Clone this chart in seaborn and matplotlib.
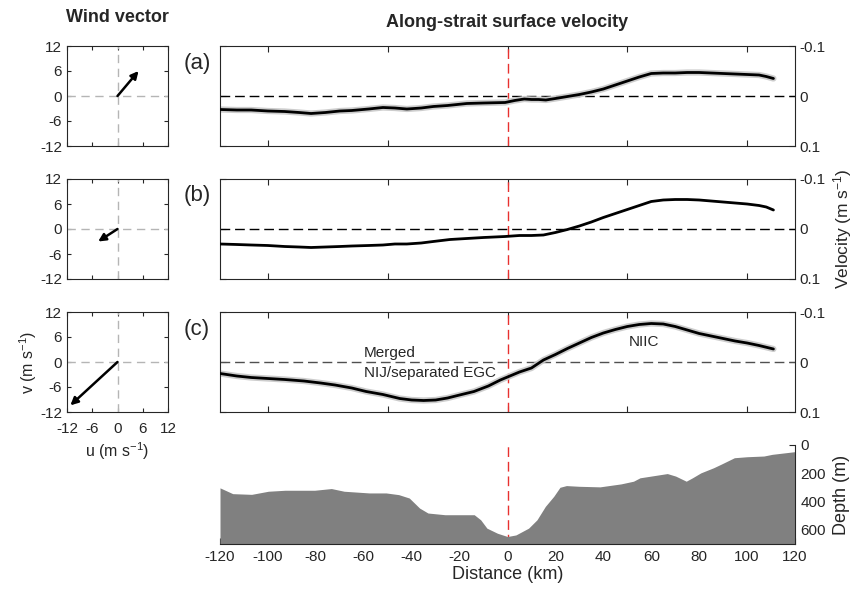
import numpy as np
import matplotlib
matplotlib.use("Agg")
import matplotlib.pyplot as plt
import seaborn as sns

# --- datos ---
paneles = ["(a)", "(b)", "(c)"]
viento_u = [5.0, -4.6, -11.2]
viento_v = [6.0, -3.0, -10.4]

dist_a = [-120, -113, -107, -100, -93, -87, -82, -76, -70, -65, -58, -52, -47, -42, -36, -31,
          -25, -17, -10, -1, 3, 7, 10, 13, 16, 20, 25, 30, 35, 40, 45, 50, 55, 60, 65, 70,
          75, 80, 85, 90, 95, 100, 105, 108, 111]
vel_a = [0.027, 0.028, 0.028, 0.030, 0.031, 0.033, 0.035, 0.033, 0.030, 0.029, 0.026, 0.023,
         0.024, 0.026, 0.024, 0.021, 0.019, 0.015, 0.014, 0.013, 0.009, 0.006, 0.007, 0.007,
         0.008, 0.005, 0.001, -0.003, -0.008, -0.014, -0.022, -0.030, -0.038, -0.045, -0.046,
         -0.046, -0.047, -0.047, -0.046, -0.045, -0.044, -0.043, -0.042, -0.039, -0.035]

dist_b = [-120, -113, -107, -100, -93, -87, -82, -76, -70, -65, -58, -52, -47, -42, -36, -31,
          -24, -17, -10, -1, 5, 10, 15, 20, 25, 30, 35, 40, 45, 50, 55, 60, 65, 70, 75, 80,
          85, 90, 95, 100, 105, 108, 111]
vel_b = [0.030, 0.031, 0.032, 0.033, 0.035, 0.036, 0.037, 0.036, 0.035, 0.034, 0.033, 0.032,
         0.030, 0.030, 0.028, 0.025, 0.021, 0.019, 0.017, 0.015, 0.013, 0.013, 0.012, 0.007,
         0.001, -0.006, -0.014, -0.023, -0.031, -0.039, -0.047, -0.055, -0.058, -0.059,
         -0.059, -0.058, -0.056, -0.054, -0.052, -0.050, -0.047, -0.044, -0.038]

dist_c = [-120, -113, -107, -100, -93, -85, -78, -72, -65, -59, -52, -45, -40, -35, -30, -25,
          -20, -14, -8, -3, 0, 5, 10, 15, 20, 25, 30, 35, 40, 45, 50, 55, 60, 65, 70, 75, 80,
          85, 90, 95, 100, 105, 111]
vel_c = [0.023, 0.028, 0.031, 0.033, 0.035, 0.038, 0.042, 0.046, 0.052, 0.059, 0.065, 0.073,
         0.076, 0.077, 0.076, 0.072, 0.066, 0.059, 0.048, 0.036, 0.030, 0.020, 0.012, -0.004,
         -0.015, -0.027, -0.038, -0.049, -0.058, -0.065, -0.071, -0.075, -0.077, -0.076,
         -0.071, -0.064, -0.057, -0.052, -0.047, -0.042, -0.038, -0.033, -0.026]

dist_fondo = [-120, -114.7, -106.8, -99.8, -92.8, -80.5, -73.5, -68.2, -57.7, -50.7, -45.4,
              -41, -36.7, -33.2, -26.1, -13.9, -11.2, -8.6, -4.2, 0, 3.5, 8.8, 12.3, 15.8,
              19.3, 21.9, 24.6, 29.9, 38.6, 47.4, 52.6, 55.3, 61.4, 66.7, 70.2, 74.6, 77.2,
              80.7, 86, 89.5, 94.7, 100, 107, 110.5, 120]
profundidad = [303, 344, 349, 327, 320, 320, 308, 327, 339, 339, 351, 375, 446, 481, 493, 493,
               529, 588, 624, 647, 636, 588, 529, 434, 363, 299, 287, 292, 296, 275, 256, 232,
               216, 202, 220, 256, 232, 197, 161, 133, 90, 83, 78, 66, 47]

textos_c = ["Merged", "NIJ/separated EGC", "NIIC"]

sns.set_style("ticks")
plt.rcParams['font.family'] = ['Liberation Sans', 'DejaVu Sans']
plt.rcParams['mathtext.fontset'] = 'custom'
plt.rcParams['mathtext.rm'] = 'Liberation Sans'
plt.rcParams['mathtext.it'] = 'Liberation Sans:italic'
plt.rcParams['axes.unicode_minus'] = False
plt.rcParams['axes.edgecolor'] = '#262626'
plt.rcParams['axes.linewidth'] = 0.8
plt.rcParams['xtick.direction'] = 'in'
plt.rcParams['ytick.direction'] = 'in'
plt.rcParams['xtick.labelsize'] = 11
plt.rcParams['ytick.labelsize'] = 11
plt.rcParams['xtick.color'] = '#262626'
plt.rcParams['ytick.color'] = '#262626'

fig = plt.figure(figsize=(8.6, 5.92), dpi=100)

W = 860.0
H = 592.0
tops = [46, 179, 312]
hp = 100

vel_datos = [(dist_a, vel_a, True), (dist_b, vel_b, False), (dist_c, vel_c, True)]
dash = (0, (7, 3.5))

ejes_vel = []
for i in range(3):
    # --- panel de viento ---
    axw = fig.add_axes([67 / W, 1 - (tops[i] + hp) / H, 101 / W, hp / H])
    axw.axhline(0, color='#b5b5b5', lw=1, ls=(0, (6, 4)), zorder=1)
    axw.axvline(0, color='#b5b5b5', lw=1, ls=(0, (6, 4)), zorder=1)
    axw.annotate("", xy=(viento_u[i], viento_v[i]), xytext=(0, 0),
                 arrowprops=dict(arrowstyle='-|>', color='black', lw=1.8,
                                 mutation_scale=11, shrinkA=0, shrinkB=0))
    axw.set_xlim(-12, 12)
    axw.set_ylim(-12, 12)
    axw.set_xticks([-12, -6, 0, 6, 12])
    axw.set_yticks([-12, -6, 0, 6, 12])
    axw.tick_params(top=True, right=True, length=3, width=0.8)
    axw.tick_params(axis='y', pad=3.5)
    axw.tick_params(axis='x', pad=7)
    if i < 2:
        axw.set_xticklabels([])
    else:
        axw.set_xlabel(r'u (m s$^{-1}$)', fontsize=11.5, labelpad=3)
        axw.set_ylabel(r'v (m s$^{-1}$)', fontsize=11.5, labelpad=1)

    # --- panel de velocidad ---
    ax = fig.add_axes([220 / W, 1 - (tops[i] + hp) / H, 575 / W, hp / H])
    xs, vs, halo = vel_datos[i]
    ax.axvline(0, color='#e8312f', lw=1, ls=dash, zorder=1)
    ax.axhline(0, color='black' if i < 2 else '#505050', lw=1, ls=dash, zorder=1)
    if halo:
        sns.lineplot(x=xs, y=vs, ax=ax, color='#c8c8c8', lw=4.5, alpha=0.9, zorder=2)
    sns.lineplot(x=xs, y=vs, ax=ax, color='black', lw=2, zorder=3)
    ax.set_xlim(-120, 120)
    ax.set_ylim(0.1, -0.1)
    ax.set_xticks([-100, -50, 0, 50, 100])
    ax.set_xticklabels([])
    ax.set_yticks([-0.1, 0, 0.1])
    ax.set_yticklabels(['-0.1', '0', '0.1'])
    ax.yaxis.tick_right()
    ax.tick_params(top=True, bottom=True, left=True, right=True, length=4, width=0.8, pad=3)
    ax.text(-0.064, 0.83, paneles[i], transform=ax.transAxes, fontsize=16,
            ha='left', va='center')
    ejes_vel.append(ax)

ejes_vel[0].set_title('Along-strait surface velocity', fontsize=13, fontweight='bold', pad=14)
fig.text(117.5 / W, 1 - 18 / H, 'Wind vector', fontsize=13, fontweight='bold',
         ha='center', va='center')

ejes_vel[1].yaxis.set_label_position('right')
ejes_vel[1].set_ylabel(r'Velocity (m s$^{-1}$)', fontsize=12.5, labelpad=4)

axc = ejes_vel[2]
axc.text(-60, -0.019, textos_c[0], fontsize=11, ha='left', va='center')
axc.text(-60, 0.021, textos_c[1], fontsize=11, ha='left', va='center')
axc.text(50.4, -0.041, textos_c[2], fontsize=11, ha='left', va='center')

# --- batimetria ---
axd = fig.add_axes([220 / W, 1 - 544 / H, 575 / W, 99 / H])
axd.axvline(0, color='#e8312f', lw=1, ls=dash, zorder=1)
axd.fill_between(dist_fondo, profundidad, 700, color='#808080', lw=0, zorder=2)
axd.set_xlim(-120, 120)
axd.set_ylim(700, 0)
axd.set_xticks(np.arange(-120, 121, 20))
axd.set_yticks([0, 200, 400, 600])
axd.yaxis.tick_right()
axd.yaxis.set_label_position('right')
axd.spines['top'].set_visible(False)
axd.spines['left'].set_visible(False)
axd.tick_params(length=4, width=0.8, pad=4)
axd.set_xlabel('Distance (km)', fontsize=13, labelpad=2)
axd.set_ylabel('Depth (m)', fontsize=13, labelpad=5)

fig.savefig('out.png', dpi=100)
